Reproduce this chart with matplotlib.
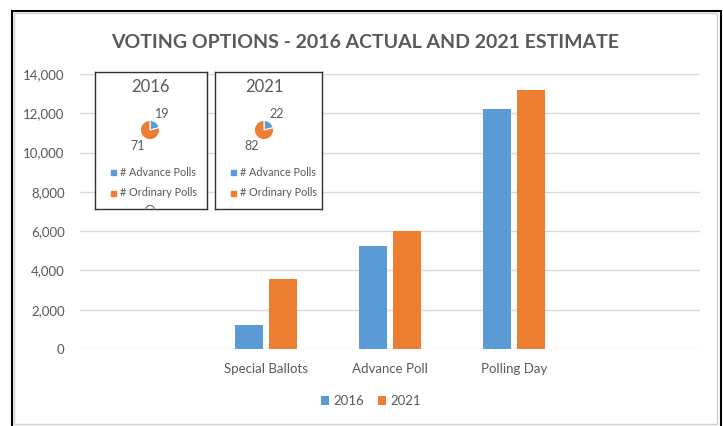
import matplotlib
matplotlib.use('Agg')
import matplotlib.pyplot as plt
import numpy as np
from matplotlib.patches import Rectangle, Arc
from matplotlib.ticker import FuncFormatter

plt.rcParams['font.family'] = ['Lato', 'DejaVu Sans']

# data
categories = ['Special Ballots', 'Advance Poll', 'Polling Day']
votes_2016 = [1200, 5250, 12200]
votes_2021 = [3550, 6000, 13200]

years = ['2016', '2021']
poll_types = ['# Advance Polls', '# Ordinary Polls']
polls_2016 = [19, 71]
polls_2021 = [22, 82]

BLUE = '#5B9BD5'
ORANGE = '#ED7D31'
GRAY = '#595959'

W, H = 723, 426
fig = plt.figure(figsize=(W / 100, H / 100), dpi=100)

def fx(x):
    return x / W

def fy(y):
    return 1 - y / H

def box(x0, y0, x1, y1):
    return [fx(x0), fy(y1), (x1 - x0) / W, (y1 - y0) / H]

# main bar chart
ax = fig.add_axes(box(80, 74, 700, 349))
x = np.arange(len(categories))
ax.bar(x - 0.141, votes_2016, 0.226, color=BLUE, label='2016', zorder=3)
ax.bar(x + 0.141, votes_2021, 0.226, color=ORANGE, label='2021', zorder=3)
ax.set_xlim(-1.5, 3.5)
ax.set_ylim(0, 14000)
ax.set_yticks(range(0, 14001, 2000))
ax.set_xticks(x)
ax.set_xticklabels(categories)
ax.yaxis.set_major_formatter(FuncFormatter(lambda v, p: f'{v:,.0f}'))
ax.grid(axis='y', color='#D9D9D9', lw=1)
ax.set_axisbelow(True)
for s in ax.spines.values():
    s.set_visible(False)
ax.tick_params(axis='both', length=0, colors=GRAY, labelsize=9.5)
ax.tick_params(axis='y', pad=11)
ax.tick_params(axis='x', pad=10)

fig.text(fx(365), fy(42), 'VOTING OPTIONS - 2016 ACTUAL AND 2021 ESTIMATE',
         ha='center', va='center', fontsize=14, fontweight='bold', color=GRAY)

fig.legend(loc='center', bbox_to_anchor=(fx(371), fy(401)), ncol=2, frameon=False,
           handlelength=0.65, handleheight=0.65, handletextpad=0.35, columnspacing=1.0,
           fontsize=9.5, labelcolor=GRAY)

# inset pie charts
inset_x = [(95, 207), (215, 322)]
pie_cx = [150, 264]
for year, counts, (x0, x1), cx in zip(years, [polls_2016, polls_2021], inset_x, pie_cx):
    bax = fig.add_axes(box(x0, 72, x1, 209))
    bax.set_xticks([])
    bax.set_yticks([])
    for s in bax.spines.values():
        s.set_color('#303030')
        s.set_linewidth(1)

    fig.text(fx(cx), fy(87), year, ha='center', va='center', fontsize=12, color=GRAY)

    pax = fig.add_axes(box(cx - 12, 118, cx + 12, 142))
    wedges, texts = pax.pie(counts, colors=[BLUE, ORANGE], startangle=90, counterclock=False,
                            labels=[str(c) for c in counts], labeldistance=2.1,
                            wedgeprops=dict(edgecolor='white', linewidth=0.8))
    for t in texts:
        t.set_ha('center')
        t.set_va('center')
        t.set_fontsize(9)
        t.set_color(GRAY)

    for k, (name, col) in enumerate(zip(poll_types, [BLUE, ORANGE])):
        ly = 172 + 21 * k
        fig.patches.append(Rectangle((fx(x0 + 16), fy(ly + 2.5)), 5 / W, 5 / H,
                                     transform=fig.transFigure, color=col, zorder=5))
        fig.text(fx(x0 + 25), fy(ly), name, ha='left', va='center', fontsize=7.8,
                 color=GRAY, zorder=5)

# little circle peeking on the first inset's bottom edge
fig.patches.append(Arc((fx(150), fy(210)), 9 / W, 9 / H, theta1=0, theta2=180,
                       transform=fig.transFigure, color='#707070', lw=0.8, zorder=6))

# chart frame
fig.patches.append(Rectangle((fx(14), fy(424)), (717 - 14) / W, (424 - 13) / H,
                             transform=fig.transFigure, fill=False, ec='#D0D0D0', lw=1))
fig.patches.append(Rectangle((fx(12), fy(440)), (721 - 12) / W, (440 - 11) / H,
                             transform=fig.transFigure, fill=False, ec='black', lw=1.5))

fig.savefig('out.png', dpi=100)
